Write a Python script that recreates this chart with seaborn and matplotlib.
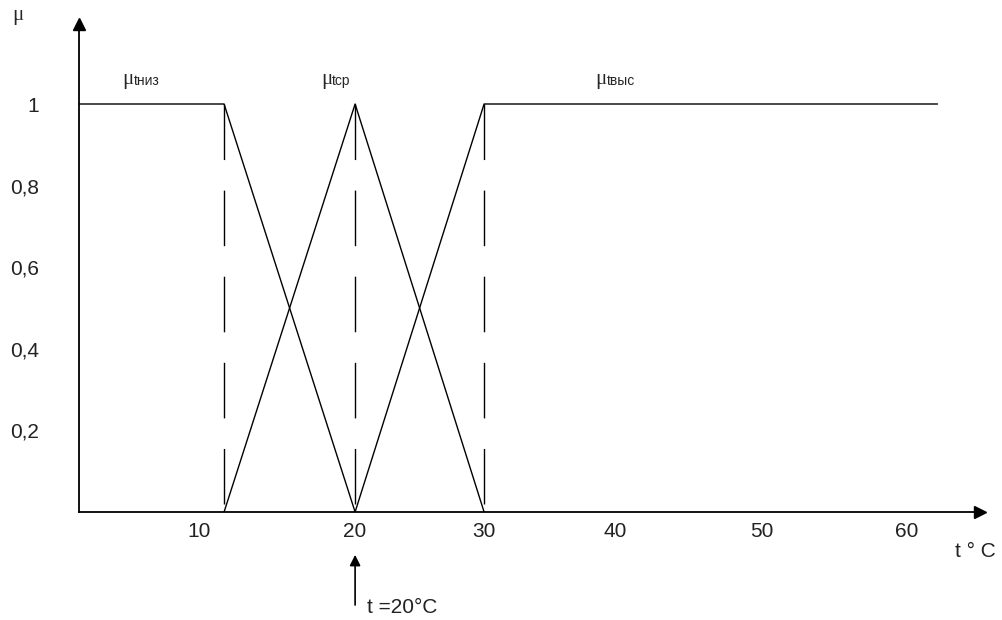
import numpy as np
import matplotlib
matplotlib.use('Agg')
import matplotlib.pyplot as plt
import seaborn as sns

# membership functions
t_low = [2.3, 11.6, 20]
mu_low = [1, 1, 0]
t_mid = [11.6, 20, 30]
mu_mid = [0, 1, 0]
t_high = [20, 30, 62.1]
mu_high = [0, 1, 1]
breaks = [11.6, 20, 30]

x_ticks = [10, 20, 30, 40, 50, 60]
x_labels = ['10', '20', '30', '40', '50', '60']
y_ticks = [0.2, 0.4, 0.6, 0.8, 1.0]
y_labels = ['0,2', '0,4', '0,6', '0,8', '1']

term_names = ['tниз', 'tср', 'tвыс']
term_x = [5.1, 17.8, 38.5]

# the hand-drawn ruler is not even: knots of a piecewise-linear x scale
ruler_vals = [0, 10, 20, 30, 40, 50, 60, 70]
ruler_pos = [43, 199, 355, 484, 615, 762, 907, 1052]


def fwd(v):
    return np.interp(v, ruler_vals, ruler_pos)


def inv(p):
    return np.interp(p, ruler_pos, ruler_vals)


sns.set_style('white')
plt.rcParams['font.family'] = ['Liberation Sans', 'DejaVu Sans']

fig = plt.figure(figsize=(10.02, 6.2), dpi=100)
ax = fig.add_axes([79 / 1002, 1 - 512 / 620, 901 / 1002, 488 / 620])
ax.set_xscale('function', functions=(fwd, inv))

lw = 1.0
for tx, my in [(t_low, mu_low), (t_mid, mu_mid), (t_high, mu_high)]:
    sns.lineplot(x=tx, y=my, color='black', lw=lw, ax=ax, sort=False)

ax.vlines(breaks, 1, 0, colors='black', lw=lw, linestyles=(0, (40, 22)))

ax.set_xlim(2.3, 65.03)
ax.set_ylim(0, 488 / 408)

for s in ['top', 'right']:
    ax.spines[s].set_visible(False)
for s in ['left', 'bottom']:
    ax.spines[s].set_color('black')
    ax.spines[s].set_linewidth(1.3)

ax.set_xticks(x_ticks, labels=x_labels)
ax.set_yticks(y_ticks, labels=y_labels)
ax.tick_params(axis='x', direction='inout', length=5, width=1, color='black',
               pad=5, labelsize=15, labelcolor='#222222')
ax.tick_params(axis='y', length=0, pad=29, labelsize=15, labelcolor='#222222')
ax.minorticks_off()

# axis arrow heads
ax.plot(1, 0, '>', color='black', ms=9, transform=ax.transAxes, clip_on=False)
ax.plot(0, 1, '^', color='black', ms=9, transform=ax.transAxes, clip_on=False)

# term labels
for name, xx in zip(term_names, term_x):
    ax.text(xx, 1.05, 'μ', fontsize=15, family=['Liberation Serif', 'DejaVu Serif'],
            ha='left', va='baseline')
    ax.annotate(name, xy=(xx, 1.05), xytext=(8, -1), textcoords='offset points',
                fontsize=10, ha='left', va='baseline')

fig.text(12 / 1002, 1 - 20 / 620, 'μ', fontsize=15,
         family=['Liberation Serif', 'DejaVu Serif'], ha='left', va='baseline')

ax.text(63.3, -0.098, 't ° C', fontsize=15, ha='left', va='center',
        color='#222222', clip_on=False)

ax.annotate('', xy=(20, -0.105), xytext=(20, -0.228), annotation_clip=False,
            arrowprops=dict(arrowstyle='-|>', color='black', lw=1.2,
                            mutation_scale=16, shrinkA=0, shrinkB=0))
ax.text(20.93, -0.233, 't =20°C', fontsize=15, ha='left', va='center',
        color='#222222', clip_on=False)

fig.savefig('out.png', dpi=100)
